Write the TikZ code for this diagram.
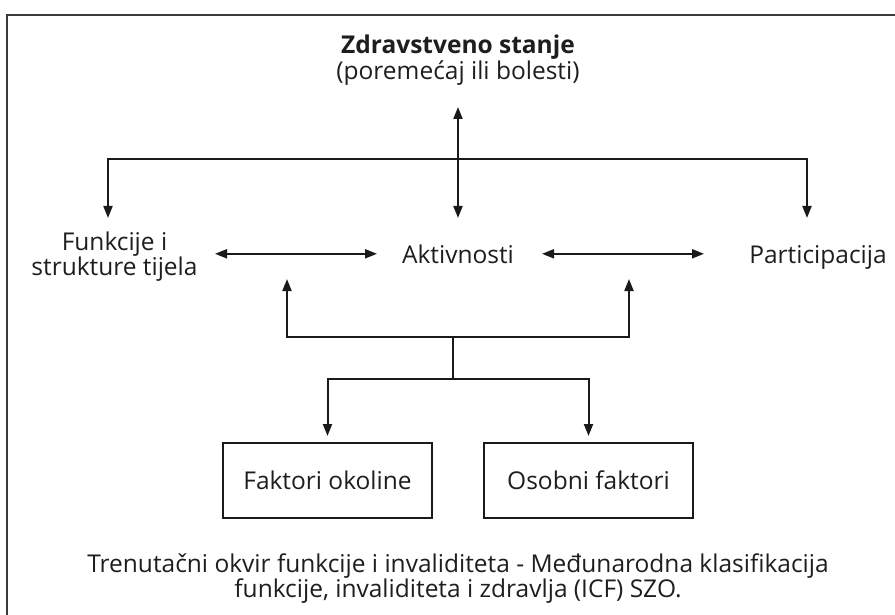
\documentclass[tikz,border=0pt]{standalone}
\usepackage{fontspec}
\setmainfont{Open Sans}
\usetikzlibrary{arrows.meta,calc}
\definecolor{txt}{HTML}{1E1E1E}
\definecolor{ln}{HTML}{1A1A1A}
\definecolor{frm}{HTML}{3A3A3A}
\begin{document}
\begin{tikzpicture}[x=1pt,y=-1pt,
  lbl/.style={inner sep=0pt, outer sep=0pt, text=txt, font=\fontsize{24.5}{24.5}\selectfont, align=center},
  conn/.style={line width=2pt, draw=ln, line join=miter},
  tip/.tip={Triangle[length=12pt,width=9pt]},
  arr/.style={conn, -tip},
  dbl/.style={conn, tip-tip},
  fbox/.style={draw=ln, line width=2pt, minimum width=209pt, minimum height=75pt, inner sep=0pt, text=txt, font=\fontsize{24.5}{24.5}\selectfont}
]
\useasboundingbox (0,0) rectangle (895,615);
\fill[white] (0,0) rectangle (895,615);
% frame (cut off at right and bottom)
\draw[frm, line width=2pt] (7,620) -- (7,15) -- (900,15);

% nodes
\node[lbl, font=\fontsize{24.5}{26.5}\selectfont] (zs) at (458,60) {\textbf{Zdravstveno stanje}\\(poremećaj ili bolesti)};
\node[lbl] (func) at (114.5,256.5) {Funkcije i\\strukture tijela};
\node[lbl, anchor=base] (akt) at (458,263) {Aktivnosti};
\node[lbl, anchor=base] (part) at (818,263) {Participacija};
\node[fbox] (env) at (327.5,480.5) {Faktori okoline};
\node[fbox] (pers) at (588.5,480.5) {Osobni faktori};
\node[lbl] (cap) at (458,578.5) {Trenutačni okvir funkcije i invaliditeta - Međunarodna klasifikacija\\funkcije, invaliditeta i zdravlja (ICF) SZO.};

% junction coordinates
\coordinate (tL) at (108,159.5);
\coordinate (tR) at (807,159.5);
\coordinate (uL) at (287,279);
\coordinate (uR) at (629,279);
\coordinate (jL) at (287,337);
\coordinate (jR) at (629,337);
\coordinate (jM) at (453,337);
\coordinate (jM2) at (453,379);

% connectors
\draw[dbl] (zs.south |- 0,107) -- (akt.north |- 0,218);
\draw[dbl] (tL |- 0,218) -- (tL) -- (tR) -- (tR |- 0,218);
\draw[dbl] (akt.center -| 215,0) -- (akt.center -| 377,0);
\draw[dbl] (akt.center -| 542,0) -- (akt.center -| 704,0);
\draw[dbl] (uL) -- (jL) -- (jR) -- (uR);
\draw[conn] (jM) -- (jM2);
\draw[dbl, shorten <=6pt, shorten >=6pt] (env.north) -- (env.north |- jM2) -- (pers.north |- jM2) -- (pers.north);
\end{tikzpicture}
\end{document}
